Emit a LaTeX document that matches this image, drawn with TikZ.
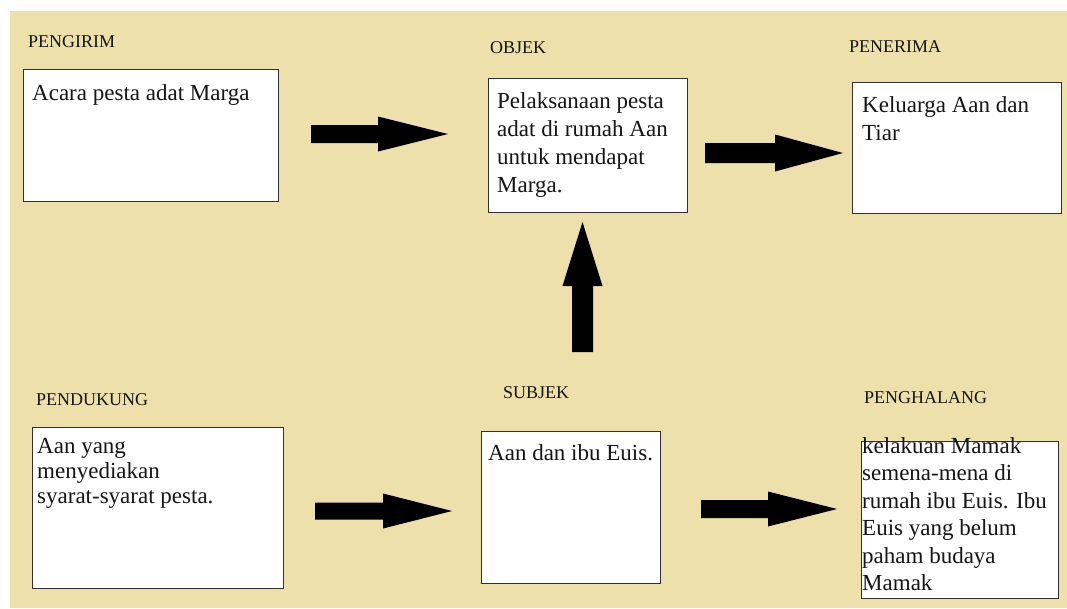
\documentclass[tikz,border=0pt]{standalone}
\usepackage{fontspec}
\setmainfont{Liberation Serif}
\usetikzlibrary{calc}
\definecolor{paper}{HTML}{EDE0AA}
\definecolor{frame}{HTML}{303030}
\definecolor{ink}{HTML}{151515}

% block arrow: #1 tail, #2 tip, #3 shaft half width, #4 head half width, #5 head length
\newcommand\blockarrow[5]{%
  \coordinate (#2-base) at ($(#2)!#5!(#1)$);
  \fill[black]
    ($(#1)!#3!90:(#2)$) -- ($(#2-base)!#3!90:(#2)$) -- ($(#2-base)!#4!90:(#2)$)
    -- (#2)
    -- ($(#2-base)!#4!-90:(#2)$) -- ($(#2-base)!#3!-90:(#2)$) -- ($(#1)!#3!-90:(#2)$)
    -- cycle;
}

\begin{document}
\begin{tikzpicture}[x=1pt,y=-1pt,
  box/.style={draw=frame, line width=1.4pt, fill=white, anchor=north west, inner sep=0pt},
  % anchor base west sits on the baseline of the last line
  boxtext/.style={anchor=base west, inner sep=0pt, align=left, text=ink,
                  font=\fontsize{23}{28}\selectfont},
  lbl/.style={anchor=base west, inner sep=0pt, text=ink, font=\fontsize{18}{20}\selectfont}]
\useasboundingbox (0,0) rectangle (1067,608);
\fill[white] (0,0) rectangle (1067,608);
\fill[paper] (10,11) rectangle (1067,608);

% headings
\node[lbl] (lpengirim)   at (28,47)   {PENGIRIM};
\node[lbl] (lobjek)      at (490,53)  {OBJEK};
\node[lbl] (lpenerima)   at (849,52)  {PENERIMA};
\node[lbl] (lpendukung)  at (36,405)  {PENDUKUNG};
\node[lbl] (lsubjek)     at (503,398) {SUBJEK};
\node[lbl] (lpenghalang) at (864,403) {PENGHALANG};

% boxes
\node[box, minimum width=255pt, minimum height=132pt] (pengirim)   at (23,69)   {};
\node[box, minimum width=199pt, minimum height=134pt] (objek)      at (488,78)  {};
\node[box, minimum width=209pt, minimum height=131pt] (penerima)   at (852,82)  {};
\node[box, minimum width=251pt, minimum height=161pt] (pendukung)  at (32,427)  {};
\node[box, minimum width=179pt, minimum height=152pt] (subjek)     at (481,431) {};
\node[box, minimum width=197pt, minimum height=157pt] (penghalang) at (861,441) {};

% box contents (positions give the last baseline)
\node[boxtext] (tpengirim) at (32,100) {Acara pesta adat Marga};
\node[boxtext] (tobjek) at (497,192) {Pelaksanaan pesta\\adat di rumah Aan\\untuk mendapat\\Marga.};
\node[boxtext] (tpenerima) at (862,140) {Keluarga Aan dan\\Tiar};
\node[boxtext, font=\fontsize{23}{25}\selectfont] (tpendukung) at (37,503)
  {Aan yang\\menyediakan\\syarat-syarat pesta.};
\node[boxtext] (tsubjek) at (488,460) {Aan dan ibu Euis.};
\node[boxtext, font=\fontsize{23}{27.5}\selectfont] (tpenghalang) at (862,590.5)
  {kelakuan Mamak\\semena-mena di\\rumah ibu Euis. Ibu\\Euis yang belum\\paham budaya\\Mamak};

% arrows
\coordinate (a1t) at (311,134);   \coordinate (a1h) at (448,134);
\coordinate (a2t) at (705,153);   \coordinate (a2h) at (843,153);
\coordinate (a3t) at (582.5,352); \coordinate (a3h) at (582.5,222);
\coordinate (a4t) at (315,511);   \coordinate (a4h) at (452,511);
\coordinate (a5t) at (701,509);   \coordinate (a5h) at (837,509);
\blockarrow{a1t}{a1h}{9pt}{17.5pt}{70pt}
\blockarrow{a2t}{a2h}{10pt}{18.5pt}{68pt}
\blockarrow{a3t}{a3h}{10.5pt}{20pt}{64pt}
\blockarrow{a4t}{a4h}{8.5pt}{17.5pt}{69pt}
\blockarrow{a5t}{a5h}{9pt}{17.5pt}{69pt}
\end{tikzpicture}
\end{document}
